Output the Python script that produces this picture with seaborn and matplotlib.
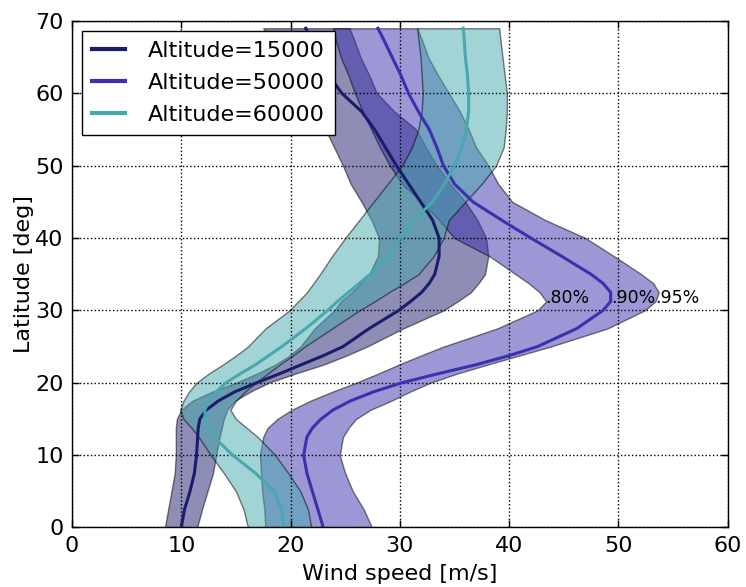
import pandas as pd
import matplotlib
matplotlib.use("Agg")
import matplotlib.pyplot as plt
import seaborn as sns

# Latitude levels [deg] where the wind-speed percentiles were read
lat = [0, 2.5, 5, 7.5, 10, 12.5, 13.75, 15, 16.25, 17.5, 18.75, 20, 21.25, 22.5, 23.75, 25,
       27.5, 30, 31.25, 32.5, 33.75, 35, 37.5, 40, 42.5, 45, 47.5, 50, 52.5, 55, 57.5,
       60, 62.5, 65, 67.5, 69]

# Altitude = 15000
a_p80 = [8.5, 8.8, 9.1, 9.4, 9.5, 9.5, 9.5, 9.6, 10.0, 11.0, 12.8, 15.0, 16.9, 18.6, 19.9, 20.9,
         22.2, 24.0, 24.6, 25.6, 26.4, 27.2, 28.0, 28.1, 27.4, 26.5, 25.5, 24.8, 24.0, 23.2, 22.2,
         21.1, 20.1, 19.2, 18.2, 17.5]
a_p90 = [10.0, 10.3, 10.8, 11.2, 11.4, 11.5, 11.55, 11.7, 12.3, 13.4, 14.9, 16.9, 19.0, 21.0, 23.0, 24.8,
         27.2, 29.9, 31.0, 32.0, 32.7, 33.2, 33.6, 33.6, 33.0, 31.9, 30.8, 29.7, 28.7, 27.7, 26.5,
         24.7, 23.5, 22.5, 21.8, 21.4]
a_p95 = [11.45, 11.9, 12.4, 12.9, 13.2, 13.5, 13.7, 13.9, 14.2, 14.9, 16.3, 18.0, 20.4, 23.0, 25.1, 27.0,
         30.3, 34.0, 35.3, 36.5, 37.2, 37.8, 38.1, 37.9, 37.1, 36.0, 34.6, 33.4, 32.4, 31.5, 29.5,
         27.9, 27.2, 26.4, 25.8, 25.4]

# Altitude = 50000
b_p80 = [17.7, 17.6, 17.4, 17.3, 17.2, 17.5, 17.9, 18.8, 20.1, 21.8, 23.8, 26.0, 28.0, 29.9, 31.9, 34.0,
         38.9, 42.6, 43.4, 42.8, 41.8, 40.6, 38.2, 35.0, 33.6, 32.0, 30.2, 29.1, 28.2, 27.4, 26.6,
         25.9, 25.3, 24.6, 24.1, 23.9]
b_p90 = [23.0, 22.5, 22.0, 21.5, 21.2, 21.5, 22.0, 22.8, 23.9, 25.5, 27.6, 30.2, 33.5, 37.0, 40.0, 42.6,
         46.2, 48.6, 49.3, 49.3, 48.6, 47.5, 44.8, 42.0, 39.3, 36.7, 35.0, 34.0, 33.4, 32.7, 31.7,
         30.8, 30.1, 29.3, 28.5, 28.0]
b_p95 = [27.45, 26.7, 25.7, 25.0, 24.5, 24.8, 25.3, 26.0, 27.3, 29.2, 30.9, 32.8, 35.2, 38.0, 40.9, 43.8,
         49.0, 52.4, 53.4, 53.7, 53.2, 52.1, 49.6, 47.0, 43.3, 40.3, 39.0, 38.1, 37.0, 36.3, 35.5,
         34.5, 33.5, 32.6, 32.0, 31.6]

# Altitude = 60000
c_p80 = [16.1, 15.7, 15.0, 13.9, 12.7, 11.6, 10.95, 10.2, 9.9, 10.2, 10.7, 11.4, 12.5, 13.8, 15.0, 16.1,
         17.7, 19.9, 20.7, 21.5, 22.1, 22.7, 23.8, 25.0, 26.3, 27.6, 28.9, 30.2, 31.1, 31.7, 32.0,
         32.1, 32.0, 31.9, 31.7, 31.6]
c_p90 = [19.4, 19.2, 18.5, 16.8, 14.7, 13.0, 12.5, 12.2, 12.15, 12.5, 13.2, 14.1, 15.4, 16.8, 18.0, 19.2,
         21.4, 23.4, 24.3, 25.3, 26.3, 27.3, 28.9, 30.0, 31.3, 33.0, 34.1, 35.0, 35.7, 36.1, 36.3,
         36.3, 36.2, 36.0, 35.9, 35.8]
c_p95 = [21.9, 21.6, 20.9, 19.8, 18.6, 17.0, 16.0, 15.0, 14.5, 15.0, 15.8, 16.8, 17.9, 19.0, 20.2, 21.3,
         23.8, 26.3, 27.7, 29.0, 30.4, 31.7, 33.1, 34.0, 34.5, 36.0, 37.5, 38.8, 39.5, 39.7, 39.8,
         39.8, 39.6, 39.4, 39.2, 39.1]

altitudes = [15000, 50000, 60000]
colors = ["#1c1c6c", "#3b30ad", "#47a9ad"]

# percentile labels next to the Altitude=50000 bulge
pct_labels = [".80%", ".90%", ".95%"]
pct_x = [43.3, 49.3, 53.4]
pct_y = 31.0

bands = [(a_p80, a_p90, a_p95), (b_p80, b_p90, b_p95), (c_p80, c_p90, c_p95)]

fig, ax = plt.subplots(figsize=(7.46, 5.87), dpi=100)
fig.subplots_adjust(left=0.0965, right=0.9753, bottom=0.1014, top=0.9642)

# shaded 80%-95% ranges
for (p80, p90, p95), col in zip(bands, colors):
    ax.fill_betweenx(lat, p80, p95, facecolor=col, edgecolor="k", alpha=0.5, lw=1)

# 90% lines
for (p80, p90, p95), col, alt in zip(bands, colors, altitudes):
    df = pd.DataFrame({"speed": p90, "lat": lat})
    sns.lineplot(data=df, x="speed", y="lat", orient="y", color=col, lw=2.2,
                 label=f"Altitude={alt}", ax=ax)

for s, x in zip(pct_labels, pct_x):
    ax.text(x, pct_y, s, fontsize=12.5, va="baseline")

ax.set_xlim(0, 60)
ax.set_ylim(0, 70)
ax.set_xticks(range(0, 61, 10))
ax.set_yticks(range(0, 71, 10))
ax.set_xlabel("Wind speed [m/s]", fontsize=16, labelpad=6)
ax.set_ylabel("Latitude [deg]", fontsize=16, labelpad=0.5)
ax.tick_params(direction="in", top=True, right=True, length=5, width=1, labelsize=16, pad=6)
ax.grid(True, linestyle=":", color="k", lw=1)
for sp in ax.spines.values():
    sp.set_linewidth(1)
    sp.set_color("k")

leg = ax.legend(loc="upper left", fontsize=16, frameon=True, fancybox=False, framealpha=1,
                edgecolor="k", handlelength=1.5, handletextpad=1.0, labelspacing=0.53,
                borderaxespad=0.45, borderpad=0.45)
leg.get_frame().set_linewidth(1)
for line in leg.get_lines():
    line.set_linewidth(3)

plt.savefig("out.png", dpi=100)
plt.close()
